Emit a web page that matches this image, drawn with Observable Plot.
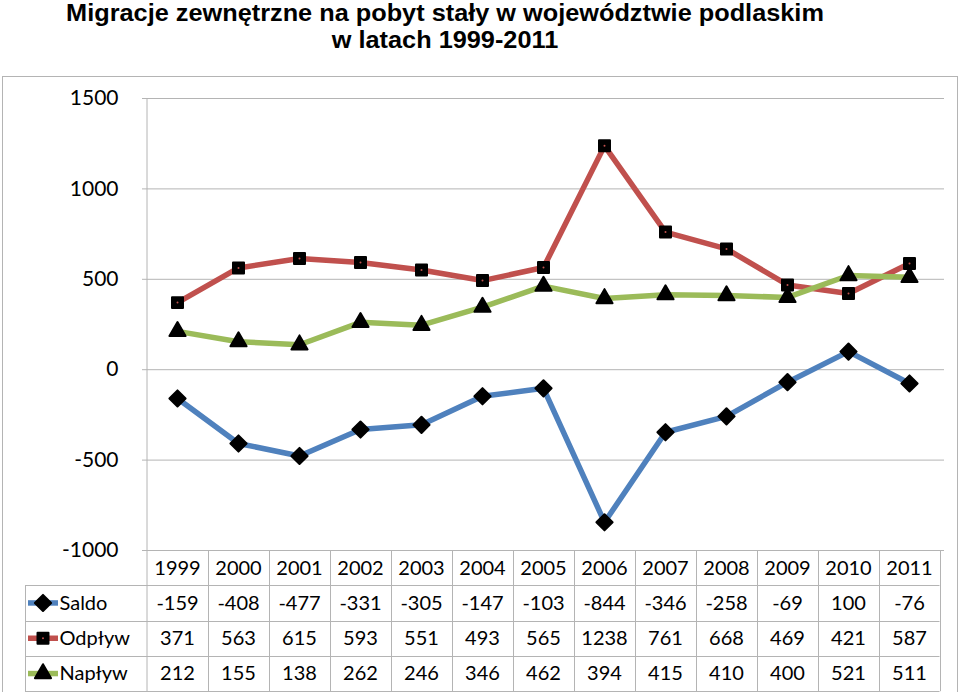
<!DOCTYPE html>
<html>
<head>
<meta charset="utf-8">
<script src="https://cdn.jsdelivr.net/npm/d3@7"></script>
<script src="https://cdn.jsdelivr.net/npm/@observablehq/plot@0.6"></script>
<style>
  body { margin: 0; background: white; }
  #title { position: relative; height: 70px; width: 960px; }
  #title div { position: absolute; left: 0; top: 0; width: 890px; text-align: center;
    font-family: "Liberation Sans", Arial, sans-serif; font-weight: bold; font-size: 23px; line-height: 27px; color: black;
    transform: scaleX(1.1); transform-origin: 445px 0; }
  #chart svg { display: block; }
</style>
</head>
<body>
<div id="title"><div>Migracje zewnętrzne na pobyt stały w województwie podlaskim<br>w latach 1999-2011</div></div>
<div id="chart"></div>
<script>
const years = [1999, 2000, 2001, 2002, 2003, 2004, 2005, 2006, 2007, 2008, 2009, 2010, 2011];
const saldo = [-159, -408, -477, -331, -305, -147, -103, -844, -346, -258, -69, 100, -76];
const odplyw = [371, 563, 615, 593, 551, 493, 565, 1238, 761, 668, 469, 421, 587];
const naplyw = [212, 155, 138, 262, 246, 346, 462, 394, 415, 410, 400, 521, 511];
const seriesNames = ["Saldo", "Odpływ", "Napływ"];
const seriesValues = [saldo, odplyw, naplyw];
const seriesColors = ["#4F81BD", "#C0504D", "#9BBB59"];
const seriesSymbols = ["diamond2", "square", "triangle"];
const yTicks = [-1000, -500, 0, 500, 1000, 1500];

const gridColor = "#B4B4B4";
const rowH = 35.3;
const legendLeft = 25;
const markerR = [7.3, 6.2, 6.0];

const d3Symbols = {diamond2: d3.symbolDiamond2, square: d3.symbolSquare, triangle: d3.symbolTriangle};

function tableGrid(index, scales, values, dims) {
  const x = scales.x, y = scales.y;
  const step = x(years[1]) - x(years[0]);
  const left = x(years[0]) - step / 2;
  const right = x(years[years.length - 1]) + step / 2;
  const top = y(yTicks[yTicks.length - 1]);
  const bottom = y(yTicks[0]);
  const g = d3.create("svg:g");
  const lines = g.append("g").attr("fill", "none").attr("stroke", gridColor).attr("stroke-width", 1);
  lines.append("rect").attr("x", 2.5).attr("y", 6.5).attr("width", 955).attr("height", dims.height + 40);
  lines.append("line").attr("x1", left + 0.5).attr("x2", left + 0.5).attr("y1", top).attr("y2", bottom + 4 * rowH);
  for (let i = 0; i <= 4; ++i) {
    const yy = Math.round(bottom + i * rowH) + 0.5;
    lines.append("line").attr("x1", i === 0 ? left : legendLeft).attr("x2", right).attr("y1", yy).attr("y2", yy);
  }
  for (let j = 1; j <= years.length; ++j) {
    const xx = Math.round(left + j * step) + 0.5;
    lines.append("line").attr("x1", xx).attr("x2", xx).attr("y1", bottom).attr("y2", bottom + 4 * rowH);
  }
  lines.append("line").attr("x1", legendLeft + 0.5).attr("x2", legendLeft + 0.5)
    .attr("y1", bottom + rowH).attr("y2", bottom + 4 * rowH);
  // legend keys
  seriesNames.forEach((name, k) => {
    const cy = bottom + rowH * (1.5 + k);
    g.append("line").attr("x1", 28).attr("x2", 58).attr("y1", cy).attr("y2", cy)
      .attr("stroke", seriesColors[k]).attr("stroke-width", 5.5);
    g.append("path")
      .attr("transform", `translate(43,${cy})`)
      .attr("d", d3.symbol(d3Symbols[seriesSymbols[k]], Math.PI * markerR[k] * markerR[k])())
      .attr("fill", "black").attr("stroke", "black").attr("stroke-width", 2).attr("stroke-linejoin", "round");
    if (k === 1) g.append("circle").attr("cx", 43).attr("cy", cy).attr("r", 1).attr("fill", seriesColors[1]);
  });
  return g.node();
}

const marks = [
  Plot.ruleY(yTicks, {stroke: gridColor, strokeWidth: 1}),
  tableGrid,
  Plot.axisY(yTicks, {tickSize: 0, tickPadding: 24, fontSize: 21, tickFormat: d => String(d), label: null}),
];

seriesValues.forEach((vals, k) => {
  marks.push(Plot.line(years, {x: d => d, y: (d, i) => vals[i], stroke: seriesColors[k], strokeWidth: 5.5, strokeLinejoin: "round", strokeLinecap: "round"}));
  marks.push(Plot.dot(years, {x: d => d, y: (d, i) => vals[i], symbol: seriesSymbols[k], r: markerR[k], fill: "black", stroke: "black", strokeWidth: 2, strokeLinejoin: "round"}));
  if (k === 1) marks.push(Plot.dot(years, {x: d => d, y: (d, i) => vals[i], r: 1, fill: seriesColors[1]}));
});

// data table header and values
marks.push(Plot.text(years, {x: d => d, text: d => String(d), frameAnchor: "bottom", dy: rowH * 0.5, fontSize: 20, lineAnchor: "middle", fill: "black"}));
seriesValues.forEach((vals, k) => {
  marks.push(Plot.text(years, {x: d => d, text: (d, i) => String(vals[i]), frameAnchor: "bottom", dy: rowH * (1.5 + k), fontSize: 20, lineAnchor: "middle", fill: "black"}));
  marks.push(Plot.text([seriesNames[k]], {text: d => d, frameAnchor: "bottom-left", dx: -83, dy: rowH * (1.5 + k), textAnchor: "start", fontSize: 20, lineAnchor: "middle", fill: "black"}));
});

const chart = Plot.plot({
  width: 960,
  height: 622,
  marginLeft: 142,
  marginRight: 16,
  marginTop: 28,
  marginBottom: 142,
  x: {type: "point", domain: years, padding: 0.5, axis: null},
  y: {domain: [-1000, 1500], axis: null},
  style: {fontFamily: "Lato, 'Open Sans', sans-serif", fontSize: "20px", background: "transparent", color: "black", overflow: "visible"},
  marks
});
document.getElementById("chart").appendChild(chart);
</script>
</body>
</html>
